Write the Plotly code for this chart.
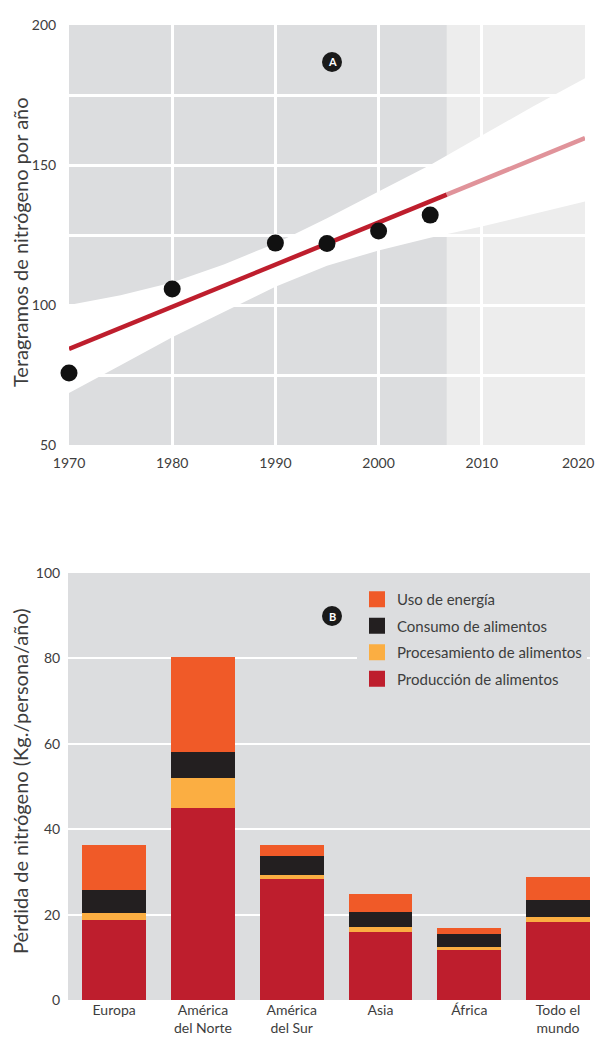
import plotly.graph_objects as go

# --- Panel A: nitrogen per year ---
obs_years = [1970, 1980, 1990, 1995, 2000, 2005]
obs_vals = [75.7, 105.7, 122.1, 122.0, 126.4, 132.1]

trend_years = [1970, 2006.6]
trend_vals = [84.3, 139.4]
proj_years = [2006.6, 2020]
proj_vals = [139.4, 159.6]

band_years = [1970, 1975, 1980, 1985, 1990, 1995, 2000, 2005, 2010, 2015, 2020]
band_upper = [100, 103.5, 108, 114.5, 122, 131, 140.5, 150, 160.5, 171, 181]
band_lower = [68.6, 78.5, 88.5, 97.5, 106.5, 114, 119.5, 124, 128, 132.5, 137]

proj_start = 2006.6
a_ticks = [50, 75, 100, 125, 150, 175, 200]
a_ticktext = ["50", "", "100", "", "150", "", "200"]
a_xticks = [1970, 1980, 1990, 2000, 2010, 2020]

# --- Panel B: nitrogen loss per person ---
regions = ["Europa", "América<br>del Norte", "América<br>del Sur", "Asia", "África", "Todo el<br>mundo"]
produccion = [18.7, 45.0, 28.3, 16.0, 11.9, 18.3]
procesamiento = [1.7, 7.1, 1.0, 1.1, 0.4, 1.1]
consumo = [5.4, 6.0, 4.4, 3.5, 3.2, 4.0]
energia = [10.5, 22.2, 2.6, 4.2, 1.4, 5.4]

series = [
    ("Producción de alimentos", produccion, "#BE1E2D"),
    ("Procesamiento de alimentos", procesamiento, "#FBAE42"),
    ("Consumo de alimentos", consumo, "#231F20"),
    ("Uso de energía", energia, "#F05A28"),
]

W, H = 599, 1038
BG = "#DCDDDF"
TXT = "#3d3d3d"
FONT = "Lato"


def px_x(p):
    return p / W


def px_y(p):
    return 1 - p / H


fig = go.Figure()

# confidence band (white)
fig.add_trace(go.Scatter(
    x=band_years + band_years[::-1], y=band_upper + band_lower[::-1],
    fill="toself", fillcolor="white", line=dict(width=0),
    mode="lines", hoverinfo="skip", showlegend=False, xaxis="x", yaxis="y"))
fig.add_trace(go.Scatter(
    x=proj_years, y=proj_vals, mode="lines",
    line=dict(color="#E0939A", width=4.5), showlegend=False, xaxis="x", yaxis="y"))
fig.add_trace(go.Scatter(
    x=trend_years, y=trend_vals, mode="lines",
    line=dict(color="#BE1E2D", width=4.5), showlegend=False, xaxis="x", yaxis="y"))
fig.add_trace(go.Scatter(
    x=obs_years, y=obs_vals, mode="markers", cliponaxis=False,
    marker=dict(color="#111111", size=17), showlegend=False, xaxis="x", yaxis="y"))

for name, vals, col in series:
    fig.add_trace(go.Bar(
        x=regions, y=vals, name=name, marker=dict(color=col, line=dict(width=0)),
        showlegend=False, xaxis="x2", yaxis="y2"))

# legend entries with bigger square swatches, top of stack first
for name, vals, col in series[::-1]:
    fig.add_trace(go.Scatter(
        x=[None], y=[None], mode="markers", name=name, legendgroup=name,
        marker=dict(color=col, size=16, symbol="square", line=dict(width=0)),
        xaxis="x2", yaxis="y2"))

shapes = [
    # lighter projection region
    dict(type="rect", xref="x", yref="y", x0=proj_start, x1=2020, y0=50, y1=200,
         fillcolor="#EDEDED", line=dict(width=0), layer="below"),
]
annotations = []
for lab, cx, cy in [("A", 332, 62), ("B", 332, 616)]:
    shapes.append(dict(type="circle", xref="paper", yref="paper",
                       x0=px_x(cx - 10), x1=px_x(cx + 10),
                       y0=px_y(cy + 10), y1=px_y(cy - 10),
                       fillcolor="#1a1a1a", line=dict(width=0), layer="above"))
    annotations.append(dict(text="<b>%s</b>" % lab, x=px_x(cx), y=px_y(cy),
                            xref="paper", yref="paper", showarrow=False,
                            xanchor="center", yanchor="middle",
                            font=dict(color="white", size=11, family=FONT)))

annotations.append(dict(text="Teragramos de nitrógeno por año", textangle=-90,
                        x=px_x(20), y=px_y(242), xref="paper", yref="paper",
                        xanchor="center", yanchor="middle",
                        showarrow=False, font=dict(size=20, color=TXT, family=FONT)))
annotations.append(dict(text="Pérdida de nitrógeno (Kg./persona/año)", textangle=-90,
                        x=px_x(20), y=px_y(782), xref="paper", yref="paper",
                        xanchor="center", yanchor="middle",
                        showarrow=False, font=dict(size=20, color=TXT, family=FONT)))

tickfont = dict(size=14, color=TXT, family=FONT)

# last year label pulled inside the window edge
annotations.append(dict(text=str(a_xticks[-1]), x=a_xticks[-1], xref="x",
                        y=px_y(462), yref="paper", xanchor="center", yanchor="middle",
                        xshift=-7, showarrow=False, font=tickfont))

fig.update_layout(
    width=W, height=H,
    margin=dict(l=0, r=0, t=0, b=0, autoexpand=False),
    paper_bgcolor="white", plot_bgcolor=BG,
    barmode="stack", bargap=0.28,
    font=dict(family=FONT, color=TXT),
    xaxis=dict(domain=[px_x(69), px_x(585)], range=[1970, 2020], tickvals=a_xticks,
               ticktext=[str(v) for v in a_xticks[:-1]] + [""],
               showgrid=True, gridcolor="white", gridwidth=2.5, zeroline=False,
               tickfont=tickfont, showline=False, anchor="y", automargin=False,
               ticks="outside", ticklen=5, tickcolor="rgba(0,0,0,0)"),
    yaxis=dict(domain=[px_y(445), px_y(25)], range=[50, 200], tickvals=a_ticks,
               ticktext=a_ticktext, showgrid=True, gridcolor="white", gridwidth=2.5,
               zeroline=False, tickfont=tickfont, anchor="x", automargin=False,
               ticks="outside", ticklen=9, tickcolor="rgba(0,0,0,0)"),
    xaxis2=dict(domain=[px_x(68), px_x(590)], range=[-0.52, 5.36],
                showgrid=False, tickfont=tickfont, anchor="y2", automargin=False,
                ticks=""),
    yaxis2=dict(domain=[px_y(1000), px_y(573)], range=[0, 100], dtick=20,
                showgrid=True, gridcolor="white", gridwidth=1.5, zeroline=False,
                tickfont=tickfont, anchor="x2", automargin=False,
                ticks="outside", ticklen=4, tickcolor="rgba(0,0,0,0)"),
    legend=dict(x=px_x(357), y=px_y(583), xanchor="left", yanchor="top",
                bgcolor=BG, traceorder="grouped", tracegroupgap=4,
                font=dict(size=15, color=TXT, family=FONT),
                itemclick=False, itemdoubleclick=False),
    shapes=shapes, annotations=annotations,
)

# drop the default page margin so the figure fills the window exactly
fig.write_html("out.html", config={"displayModeBar": False},
               post_script="document.body.style.margin='0';document.body.style.overflow='hidden';")
